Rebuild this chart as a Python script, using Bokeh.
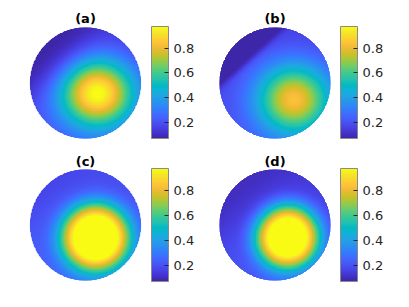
import numpy as np
from bokeh.plotting import figure
from bokeh.models import LinearColorMapper, ColorBar, FixedTicker, Label
from bokeh.layouts import gridplot
from bokeh.embed import file_html
from bokeh.resources import INLINE

# ---------------- data ----------------
TITLES = ["(a)", "(b)", "(c)", "(d)"]
CBAR_TICKS = [0.2, 0.4, 0.6, 0.8]
C_LOW, C_HIGH = 0.07, 0.975
# hot-spot position on the disk (units of disk radius, y up)
PEAK_X = [0.21, 0.34, 0.18, 0.22]
PEAK_Y = [-0.18, -0.29, -0.22, -0.21]
# hot-spot strength / background level
AMP = [0.82, 0.66, 1.00, 1.00]
BASE = [0.16, 0.17, 0.21, 0.17]
SPREAD_X = [0.66, 0.66, 0.61, 0.57]
SPREAD_Y = [0.60, 0.62, 0.60, 0.57]
SHAPE = [2.0, 2.0, 3.0, 3.0]
TILT_X = [0.0, 0.0, 0.0, 0.0]
TILT_Y = [-0.03, -0.02, -0.03, -0.04]
# dark caps (sharp in (b), soft in the others)
CAP_NX = [-0.70, -0.67, -0.70, -0.70]
CAP_NY = [0.70, 0.74, 0.70, 0.70]
CAP_C = [0.60, 0.60, 0.90, 0.65]
CAP_SOFT = [0.15, 0.03, 0.15, 0.18]
CAP_VAL = [0.06, 0.06, 0.15, 0.09]

# ---------------- style ----------------
PARULA_ANCHORS = [
    (.2422, .1504, .6603), (.2647, .1978, .7952), (.2783, .2559, .8991),
    (.2810, .3228, .9579), (.2699, .3892, .9906), (.2206, .4603, .9973),
    (.1786, .5289, .9682), (.1540, .5902, .9218), (.1248, .6459, .8883),
    (.0689, .6948, .8394), (.0067, .7312, .7660), (.1408, .7584, .6842),
    (.2161, .7843, .5923), (.3406, .8008, .4789), (.5044, .7993, .3480),
    (.6720, .7793, .2227), (.8203, .7498, .1535), (.9393, .7288, .2100),
    (.9970, .7659, .2199), (.9786, .8386, .1766), (.9597, .9135, .1423),
    (.9769, .9839, .0805)]
anc = np.array(PARULA_ANCHORS)
tt = np.linspace(0, 1, len(anc))
t256 = np.linspace(0, 1, 256)
rgb = np.stack([np.interp(t256, tt, anc[:, k]) for k in range(3)], axis=1)
PARULA = ["#%02x%02x%02x" % tuple(int(round(c * 255)) for c in row) for row in rgb]

COL_W = [200, 201]
ROW_H = [142, 157]
DISK_CX = [85.0, 74.5]
DISK_CY_TOP = 82.5
DISK_R = 56.0
CB_LEFT = [151, 140]
CB_TOP = 26
CB_W = 17
CB_H = [112, 113]
TITLE_Y_TOP = [17.5, 19.0]
FONT = "DejaVu Sans"

N = 260
g = np.linspace(-1, 1, N)
X, Y = np.meshgrid(g, g)
inside = X**2 + Y**2 <= 1.0

figs = []
for i in range(4):
    row, col = divmod(i, 2)
    W, H = COL_W[col], ROW_H[row]
    p = figure(width=W, height=H, x_range=(0, W), y_range=(0, H),
               output_backend="svg", toolbar_location=None,
               x_axis_location=None, y_axis_location=None,
               min_border=0, outline_line_color=None)
    p.grid.visible = False

    d = np.sqrt(((X - PEAK_X[i]) / SPREAD_X[i])**2 + ((Y - PEAK_Y[i]) / SPREAD_Y[i])**2)
    v = BASE[i] + TILT_X[i] * X + TILT_Y[i] * Y + AMP[i] * np.exp(-d**SHAPE[i])
    s = CAP_NX[i] * X + CAP_NY[i] * Y - CAP_C[i]
    w = 1.0 / (1.0 + np.exp(-s / CAP_SOFT[i]))
    v = v * (1 - w) + CAP_VAL[i] * w
    v = np.where(inside, v, np.nan)

    mapper = LinearColorMapper(palette=PARULA, low=C_LOW, high=C_HIGH,
                               nan_color="rgba(0,0,0,0)")
    cx = DISK_CX[col]
    cy = H - DISK_CY_TOP
    p.image(image=[v], x=cx - DISK_R, y=cy - DISK_R, dw=2 * DISK_R, dh=2 * DISK_R,
            color_mapper=mapper)
    p.circle(x=[cx], y=[cy], radius=DISK_R + 0.3, fill_color=None,
             line_color="white", line_width=1.2)

    cb = ColorBar(color_mapper=mapper, ticker=FixedTicker(ticks=CBAR_TICKS),
                  location=(CB_LEFT[col], H - CB_TOP - CB_H[row]),
                  width=CB_W, height=CB_H[row], padding=0,
                  bar_line_color="#8a8a8a", bar_line_width=1,
                  major_tick_in=4, major_tick_out=0,
                  major_tick_line_color="#262626",
                  minor_tick_line_color=None,
                  major_label_text_font=FONT,
                  major_label_text_font_size="13px",
                  major_label_text_color="#262626",
                  label_standoff=5,
                  background_fill_alpha=0, border_line_color=None)
    p.add_layout(cb, "center")

    p.add_layout(Label(x=cx, y=H - TITLE_Y_TOP[row], text=TITLES[i],
                       text_align="center", text_baseline="middle",
                       text_font=FONT, text_font_style="bold",
                       text_font_size="13px", text_color="black"))
    figs.append(p)

grid = gridplot([[figs[0], figs[1]], [figs[2], figs[3]]], toolbar_location=None)
open("out.html", "w").write(file_html(grid, INLINE))
